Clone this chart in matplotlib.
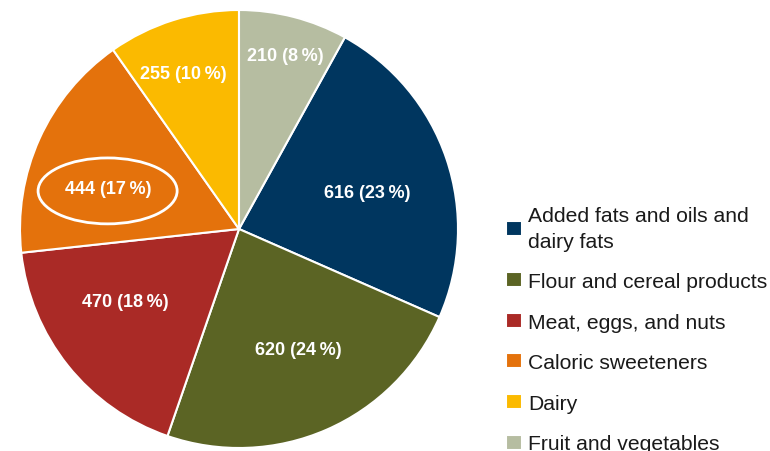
import matplotlib.pyplot as plt
from matplotlib.patches import Ellipse

plt.rcParams["font.family"] = ["Liberation Sans", "DejaVu Sans"]

categories = [
    "Added fats and oils and\ndairy fats",
    "Flour and cereal products",
    "Meat, eggs, and nuts",
    "Caloric sweeteners",
    "Dairy",
    "Fruit and vegetables",
]
values = [616, 620, 470, 444, 255, 210]
percents = [23, 24, 18, 17, 10, 8]
colors = ["#00365F", "#5B6424", "#AA2A26", "#E4720C", "#FBBA00", "#B6BDA1"]

# label centres inside the pie (axes data units, radius = 1)
label_xy = [(0.584, 0.165), (0.269, -0.548), (-0.521, -0.329),
            (-0.598, 0.186), (-0.256, 0.708), (0.210, 0.790)]

fig = plt.figure(figsize=(7.7, 4.52), dpi=100)
ax = fig.add_axes([20 / 770, 3 / 452, 438 / 770, 438 / 452])

# last slice (fruit and vegetables) ends at 12 o'clock
start = 90 - 360 * values[-1] / sum(values)
wedges, _ = ax.pie(values, colors=colors, startangle=start, counterclock=False,
                   wedgeprops=dict(edgecolor="white", linewidth=1.5))
ax.set_xlim(-1.0, 1.0)
ax.set_ylim(-1.0, 1.0)
ax.set_aspect("equal")

for v, p, (x, y) in zip(values, percents, label_xy):
    ax.text(x, y, f"{v} ({p}\u2009%)", color="white", fontsize=13,
            fontweight="bold", ha="center", va="center")

ax.add_patch(Ellipse((-0.600, 0.174), 0.635, 0.301, fill=False,
                     edgecolor="white", linewidth=2))

leg = fig.legend(wedges, categories, loc="upper left",
                 bbox_to_anchor=(506 / 770, 1 - 207 / 452), frameon=False,
                 fontsize=15.2, handlelength=0.76, handleheight=0.72,
                 handletextpad=0.28, labelspacing=1.02, borderpad=0,
                 borderaxespad=0, labelcolor="#1a1a1a")
for t in leg.get_texts():
    t.set_linespacing(1.45)

fig.savefig("out.png", dpi=100)
